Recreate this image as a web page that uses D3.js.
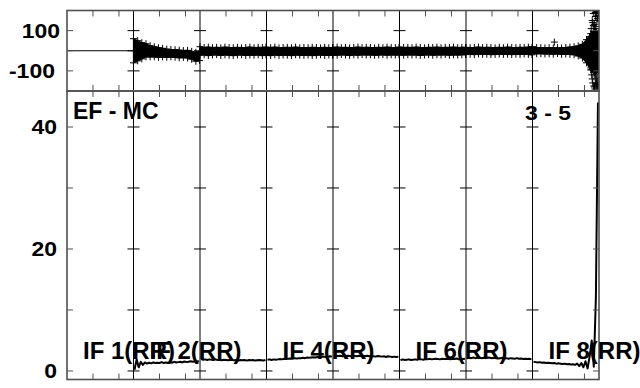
<!DOCTYPE html>
<html><head><meta charset="utf-8">
<script src="https://cdn.jsdelivr.net/npm/d3@7"></script>
<style>
html,body{margin:0;padding:0;background:#fff;}
svg{display:block;}
text{font-family:"Liberation Sans",Arial,Helvetica,sans-serif;font-weight:bold;fill:#000;}
</style></head>
<body>
<svg id="chart" width="640" height="388"></svg>
<script>
// ---------- data ----------
const channelsPerIF = 128;
const ifCount = 8;
const xTickOffsets = [50, 100];

const phaseTicks = [-100, 0, 100];
const phaseTickLabels = ["-100", "", "100"];
const ampTicks = [0, 10, 20, 30, 40];
const ampTickLabels = ["0", "", "20", "", "40"];

const panelTitle = "EF - MC";
const baselineTitle = "3 - 5";
const labelIFs = [0, 1, 3, 5, 7];
const labelTexts = ["IF 1(RR)", "IF 2(RR)", "IF 4(RR)", "IF 6(RR)", "IF 8(RR)"];

// phase envelope (deg), sampled at these channel offsets in each IF
const phaseOffsets = [0, 8, 16, 24, 32, 40, 48, 56, 64, 72, 80, 88, 96, 104, 112, 120, 127];
const phaseHi = [
  [0,0,0,0,0,0,0,0,0,0,0,0,0,0,0,0,0],
  [60,50,40,35,25,20,15,12,8,6,5,3,1,2,-3,-8,-5],
  [20,16,18,15,17,14,18,16,15,17,14,16,18,15,17,16,18],
  [17,15,18,14,16,17,15,18,14,16,15,17,16,14,17,15,16],
  [16,18,15,17,14,16,18,15,17,16,14,17,15,18,16,15,17],
  [18,16,17,15,18,16,14,17,16,18,15,17,16,18,15,17,16],
  [17,15,16,18,15,17,16,14,17,15,18,16,15,17,16,18,17],
  [20,16,15,14,15,14,16,14,16,18,20,24,32,55,85,110,95]
];
const phaseLo = [
  [0,0,0,0,0,0,0,0,0,0,0,0,0,0,0,0,0],
  [-60,-50,-40,-30,-30,-30,-32,-30,-32,-30,-32,-35,-33,-36,-42,-52,-48],
  [-22,-20,-24,-21,-19,-23,-20,-22,-24,-21,-20,-23,-21,-22,-20,-24,-21],
  [-22,-24,-20,-23,-21,-22,-24,-20,-22,-23,-21,-24,-22,-20,-23,-21,-22],
  [-20,-22,-19,-21,-23,-20,-22,-19,-21,-20,-22,-21,-19,-22,-20,-21,-20],
  [-20,-22,-19,-21,-20,-23,-21,-19,-22,-20,-21,-19,-22,-20,-21,-20,-19],
  [-18,-17,-19,-16,-18,-17,-19,-18,-16,-18,-17,-19,-17,-18,-16,-18,-20],
  [-14,-15,-14,-16,-15,-17,-14,-18,-16,-18,-20,-26,-36,-60,-95,-120,-105]
];
// scattered phase points [channel, deg]
const phaseScatter = [
  [938,43],[1006,70],[1008,-85],[1009,110],[1010,-120],[1011,150],[1012,-160],[1013,185],
  [1014,-175],[1015,130],[1016,-190],[1017,170],[1018,-140],[1019,195],[1020,-185],
  [1021,160],[1022,-150],[1023,185],[1014,95],[1016,-100],[1018,120],[1020,-130],
  [1022,175],[1012,140],[1010,-95],[1021,-170],[1019,-160],[1017,190],[1015,-180],
  [1011,-140],[1013,125],[1023,-175],[1020,150],[1018,-165]
];

// amplitude ratio, sampled at channel offsets 2,6,10,...,126 in each IF (IF 1 empty)
const ampOffsets = [2,6,10,14,18,22,26,30,34,38,42,46,50,54,58,62,66,70,74,78,82,86,90,94,98,102,106,110,114,118,122,126];
const ampValues = [
  [],
  [0.2,1.9,0.6,1.5,1.0,1.4,1.2,1.35,1.25,1.4,1.3,1.35,1.3,1.45,1.3,1.4,1.35,1.45,1.35,1.5,1.4,1.45,1.5,1.4,1.55,1.45,1.5,1.6,1.5,1.55,1.6,1.55],
  [1.95,1.85,1.9,1.8,1.9,1.85,1.8,1.9,1.8,1.85,1.75,1.85,1.8,1.75,1.85,1.8,1.75,1.8,1.7,1.8,1.75,1.8,1.7,1.8,1.75,1.8,1.7,1.75,1.8,1.75,1.7,1.8],
  [1.85,1.9,1.8,1.9,1.85,1.9,1.95,1.9,2.0,1.95,2.0,2.05,2.0,2.1,2.05,2.1,2.1,2.15,2.1,2.2,2.15,2.2,2.25,2.2,2.3,2.25,2.3,2.35,2.3,2.35,2.4,2.35],
  [2.4,2.5,2.45,2.5,2.4,2.55,2.45,2.5,2.4,2.5,2.45,2.4,2.5,2.45,2.4,2.45,2.5,2.4,2.45,2.4,2.35,2.45,2.4,2.35,2.4,2.3,2.4,2.35,2.3,2.35,2.3,2.35],
  [1.75,1.9,1.8,1.85,1.9,1.8,1.85,1.9,1.85,1.95,1.9,1.85,1.95,1.9,2.0,1.9,1.95,2.0,1.95,1.9,2.0,1.95,2.0,1.95,1.9,2.0,1.95,2.05,1.9,2.0,1.95,2.0],
  [2.1,2.15,2.1,2.2,2.1,2.15,2.2,2.1,2.15,2.1,2.2,2.15,2.1,2.15,2.1,2.05,2.1,2.15,2.05,2.1,2.0,2.1,2.05,2.0,2.1,2.0,2.05,1.95,2.0,1.95,2.0,1.9],
  [1.5,1.45,1.4,1.45,1.35,1.4,1.3,1.35,1.3,1.25,1.3,1.2,1.25,1.2,1.15,1.2,1.1,1.15,1.05,1.1,1.0,1.2,0.8,1.3,0.6,1.6,0.4,2.4,5.0,0.7,12,44]
];

// ---------- layout ----------
const L = 67, R = 599, T1 = 10.5, B1 = 91, T2 = 91, B2 = 379.5;
const svg = d3.select("#chart");
const x = d3.scaleLinear().domain([0, channelsPerIF * ifCount]).range([L, R]);
const yP = d3.scaleLinear().domain([-200, 200]).range([B1, T1]);
const yA = d3.scaleLinear().domain([-1.4, 45.9]).range([B2, T2]);

const frameColor = "#505050";
const tickLen = 6;

const defs = svg.append("defs");
defs.append("clipPath").attr("id","c1").append("rect").attr("x",L).attr("y",T1).attr("width",R-L).attr("height",B1-T1);
defs.append("clipPath").attr("id","c2").append("rect").attr("x",L).attr("y",T2).attr("width",R-L).attr("height",B2-T2);

function plusPath(cx, cy, s) { return `M${cx-s},${cy}H${cx+s}M${cx},${cy-s}V${cy+s}`; }

// ---------- top panel: phase ----------
const gP = svg.append("g").attr("clip-path","url(#c1)");
const area = d3.area().x(d => x(d.ch)).y0(d => yP(d.lo)).y1(d => yP(d.hi));
for (let k = 0; k < ifCount; k++) {
  const pts = phaseOffsets.map((o, i) => ({ch: k*channelsPerIF + o, hi: phaseHi[k][i], lo: phaseLo[k][i]}));
  gP.append("path").datum(pts).attr("d", area)
    .attr("fill","#000").attr("stroke","#000").attr("stroke-width",1.2);
  if (k > 0) {
    const marks = [];
    pts.forEach(p => { marks.push([p.ch, p.hi]); marks.push([p.ch, p.lo]); });
    gP.selectAll(null).data(marks).enter().append("path")
      .attr("d", d => plusPath(x(d[0]), yP(d[1]), 3.5))
      .attr("stroke","#000").attr("stroke-width",1).attr("fill","none");
  }
}
gP.selectAll(null).data(phaseScatter).enter().append("path")
  .attr("d", d => plusPath(x(d[0]), yP(d[1]), 3.5))
  .attr("stroke","#000").attr("stroke-width",1).attr("fill","none");

// ---------- bottom panel: amplitude ----------
const gA = svg.append("g").attr("clip-path","url(#c2)");
const line = d3.line().x(d => x(d[0])).y(d => yA(d[1]));
for (let k = 0; k < ifCount; k++) {
  if (!ampValues[k].length) continue;
  const pts = ampOffsets.map((o, i) => [k*channelsPerIF + o, ampValues[k][i]]);
  gA.append("path").datum(pts).attr("d", line)
    .attr("fill","none").attr("stroke","#000").attr("stroke-width",2).attr("stroke-linejoin","round");
}

// ---------- separators ----------
const seps = d3.range(1, ifCount).map(k => k*channelsPerIF);
svg.selectAll(null).data(seps).enter().append("line")
  .attr("x1", d => x(d)).attr("x2", d => x(d)).attr("y1", T1).attr("y2", B2)
  .attr("stroke","#000").attr("stroke-width",1);

function crossTicks(ticks, yScale) {
  const data = [];
  seps.forEach(s => ticks.forEach(t => data.push([s, t])));
  svg.selectAll(null).data(data).enter().append("line")
    .attr("x1", d => x(d[0]) - tickLen).attr("x2", d => x(d[0]) + tickLen)
    .attr("y1", d => yScale(d[1])).attr("y2", d => yScale(d[1]))
    .attr("stroke","#000").attr("stroke-width",1);
}
crossTicks(phaseTicks, yP);
crossTicks(ampTicks, yA);

// ---------- frames and edge ticks ----------
const fr = svg.append("g").attr("stroke", frameColor).attr("fill","none");
const xTicks = [];
for (let k = 0; k < ifCount; k++) xTickOffsets.forEach(o => xTicks.push(k*channelsPerIF + o));
function edgeX(yEdge, dir) {
  fr.selectAll(null).data(xTicks).enter().append("line")
    .attr("x1", d => x(d)).attr("x2", d => x(d))
    .attr("y1", yEdge).attr("y2", yEdge + dir*tickLen).attr("stroke-width",1);
}
edgeX(T1, 1); edgeX(B1, -1); edgeX(T2, 1); edgeX(B2, -1);
function edgeY(ticks, yScale) {
  fr.selectAll(null).data(ticks).enter().append("line")
    .attr("x1", L).attr("x2", L + tickLen).attr("y1", d => yScale(d)).attr("y2", d => yScale(d)).attr("stroke-width",1);
  fr.selectAll(null).data(ticks).enter().append("line")
    .attr("x1", R - tickLen).attr("x2", R).attr("y1", d => yScale(d)).attr("y2", d => yScale(d)).attr("stroke-width",1);
}
edgeY(phaseTicks, yP);
edgeY(ampTicks, yA);
fr.append("rect").attr("x", L).attr("y", T1).attr("width", R-L).attr("height", B1-T1).attr("stroke-width",1.6);
fr.append("rect").attr("x", L).attr("y", T2).attr("width", R-L).attr("height", B2-T2).attr("stroke-width",1.6);

// ---------- tick labels ----------
const numFont = 23, sy = 0.88;
function numLabel(tx, ty, str, anchor) {
  svg.append("text").attr("transform", `translate(${tx},${ty}) scale(1,${sy})`)
    .attr("text-anchor", anchor).attr("font-size", numFont).text(str);
}
phaseTicks.forEach((t, i) => {
  if (!phaseTickLabels[i]) return;
  numLabel(t < 0 ? L - 12 : L - 7, yP(t) + 7.5, phaseTickLabels[i], "end");
});
ampTicks.forEach((t, i) => {
  if (!ampTickLabels[i]) return;
  numLabel(L - 10, yA(t) + 7.5, ampTickLabels[i], "end");
});

// ---------- annotations ----------
svg.append("text").attr("x", L + 6).attr("y", 119).attr("font-size", 23).text(panelTitle);
numLabel(525, 119.5, baselineTitle, "start");
svg.selectAll(null).data(labelIFs).enter().append("text")
  .attr("x", d => x(d*channelsPerIF) + 16).attr("y", 359)
  .attr("font-size", 24)
  .text((d, i) => labelTexts[i]);
</script>
</body></html>
